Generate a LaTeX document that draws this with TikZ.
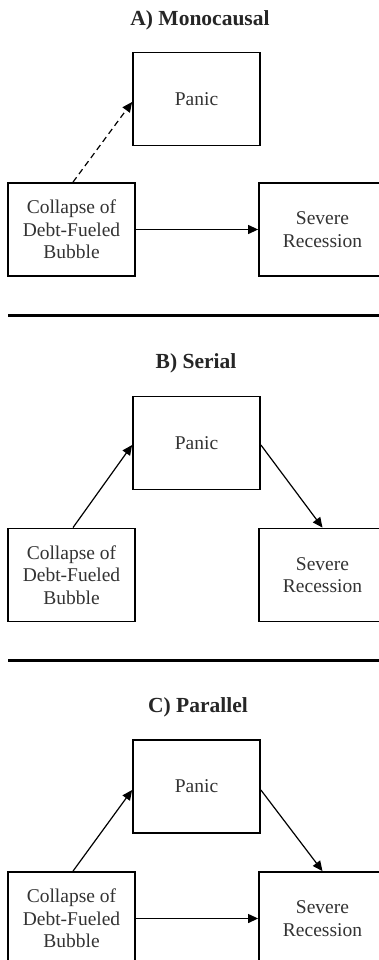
\documentclass[tikz,border=0pt]{standalone}
\usepackage{fontspec}
\setmainfont{Liberation Serif}
\usetikzlibrary{arrows.meta}
\tikzset{
  box/.style={draw=black, line width=1.8pt, minimum width=127pt, minimum height=93pt, inner sep=0pt, align=center, text=black!80, font=\fontsize{19.5}{22.5}\selectfont},
  ttl/.style={font=\bfseries\fontsize{21.5}{24}\selectfont, text=black!85, inner sep=0pt},
  conn/.style={line width=1.2pt, -{Triangle[length=10pt,width=9pt]}},
  sep/.style={line width=3pt}
}
\begin{document}
\begin{tikzpicture}[x=1pt,y=-1pt]
\useasboundingbox (0,0) rectangle (379,960);
\clip (0,0) rectangle (379,960);
\fill[white] (0,0) rectangle (379,960);
% Panel A
\node[ttl] (tA) at (200,20) {A) Monocausal};
\node[box] (pA) at (196.5,99) {Panic};
\node[box] (cA) at (71.5,229.5) {Collapse of\\Debt-Fueled\\Bubble};
\node[box] (sA) at (322.5,229.5) {Severe\\Recession};
\draw[conn, dashed, dash pattern=on 6pt off 4pt] ([xshift=1.5pt]cA.north) -- (pA.west |- 0,102);
\draw[conn] (cA.east) -- (sA.west);
\coordinate (l1a) at (8,315);
\coordinate (l1b) at (390,315);
\draw[sep] (l1a) -- (l1b);
% Panel B
\node[ttl] (tB) at (196,363) {B) Serial};
\node[box] (pB) at (196.5,443) {Panic};
\node[box] (cB) at (71.5,575) {Collapse of\\Debt-Fueled\\Bubble};
\node[box] (sB) at (322.5,575) {Severe\\Recession};
\draw[conn] ([xshift=1.5pt]cB.north) -- (pB.west |- 0,445);
\draw[conn] (pB.east |- 0,445) -- (sB.north);
\coordinate (l2a) at (8,660);
\coordinate (l2b) at (390,660);
\draw[sep] (l2a) -- (l2b);
% Panel C
\node[ttl] (tC) at (198,707) {C) Parallel};
\node[box] (pC) at (196.5,786.5) {Panic};
\node[box] (cC) at (71.5,918.5) {Collapse of\\Debt-Fueled\\Bubble};
\node[box] (sC) at (322.5,918.5) {Severe\\Recession};
\draw[conn] ([xshift=1.5pt]cC.north) -- (pC.west |- 0,790);
\draw[conn] (pC.east |- 0,790) -- (sC.north);
\draw[conn] (cC.east) -- (sC.west);
\end{tikzpicture}
\end{document}
